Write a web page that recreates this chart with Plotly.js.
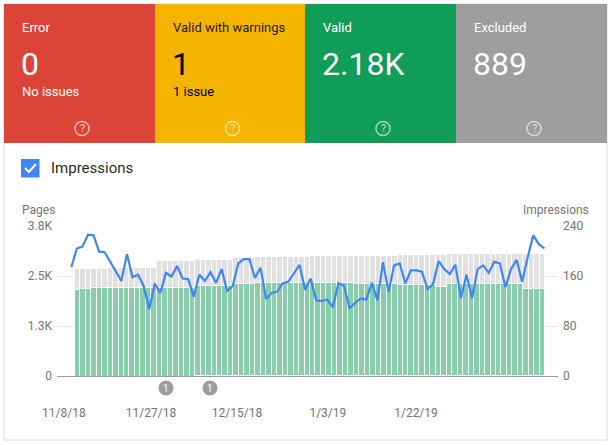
<!DOCTYPE html>
<html>
<head>
<meta charset="utf-8">
<script src="https://cdn.plot.ly/plotly-3.0.1.min.js"></script>
<style>
  html, body { margin: 0; padding: 0; background: #fff; }
  #chart { width: 612px; height: 445px; }
</style>
</head>
<body>
<div id="chart"></div>
<script>
// ---- Data ----
const cardTitles = ['Error', 'Valid with warnings', 'Valid', 'Excluded'];
const cardValues = ['0', '1', '2.18K', '889'];
const cardSubs = ['No issues', '1 issue', '', ''];

const errors = [0,0,0,0,0,0,0,0,0,0, 0,0,0,0,0,0,0,0,0,0, 0,0,0,0,0,0,0,0,0,0,
  0,0,0,0,0,0,0,0,0,0, 0,0,0,0,0,0,0,0,0,0, 0,0,0,0,0,0,0,0,0,0,
  0,0,0,0,0,0,0,0,0,0, 0,0,0,0,0,0,0,0,0,0, 0,0,0,0,0,0];
const warnings = [0,0,0,0,0,0,0,0,0,0, 0,0,0,0,0,0,0,0,0,0, 0,0,1,1,1,1,1,1,1,1,
  1,1,1,1,1,1,1,1,1,1, 1,1,1,1,1,1,1,1,1,1, 1,1,1,1,1,1,1,1,1,1,
  1,1,1,1,1,1,1,1,1,1, 1,1,1,1,1,1,1,1,1,1, 1,1,1,1,1,1];
const valid = [2167,2183,2183,2208,2208,2208,2208,2208,2208,2208,
  2208,2208,2225,2225,2225,2225,2225,2225,2225,2225,
  2225,2225,2258,2258,2258,2258,2258,2258,2258,2308,
  2308,2308,2308,2335,2335,2335,2335,2335,2335,2335,
  2335,2335,2335,2335,2335,2335,2335,2335,2335,2335,
  2335,2300,2300,2300,2300,2300,2300,2300,2300,2275,
  2275,2275,2275,2275,2275,2275,2240,2240,2300,2300,
  2300,2300,2300,2300,2300,2300,2300,2300,2300,2300,
  2300,2300,2180,2180,2180,2180];
const excluded = [525,509,509,484,484,484,517,517,517,517,
  517,517,500,500,500,667,667,667,667,667,
  667,667,645,645,645,645,645,645,645,666,
  666,666,666,664,664,664,664,664,664,664,
  664,664,664,684,684,684,684,684,684,684,
  684,719,719,719,719,719,719,719,719,766,
  766,766,766,766,766,766,801,801,766,766,
  766,766,766,766,766,766,766,766,766,766,
  766,766,889,889,889,889];
const impressions = [174,204,207,226,225,199,198,183,168,152,
  195,158,162,144,107,148,133,165,159,176,
  156,155,127,162,152,166,149,171,136,144,
  180,187,187,157,173,123,133,135,148,151,
  164,178,138,156,121,120,122,110,149,144,
  108,117,124,122,149,121,182,135,177,180,
  148,169,169,167,139,147,184,171,163,178,
  125,162,125,171,177,165,183,180,142,171,
  186,151,190,225,211,204];

const xTickLabels = ['11/8/18', '11/27/18', '12/15/18', '1/3/19', '1/22/19'];
const pagesTickLabels = ['0', '1.3K', '2.5K', '3.8K'];
const pagesTickValues = [0, 1250, 2500, 3750];
const imprTickValues = [0, 80, 160, 240];
const noteLabels = ['1', '1'];

// ---- Layout helpers (pixel -> paper) ----
const W = 612, H = 445;
const M = { l: 57, r: 54, t: 226, b: 69 };
const PW = W - M.l - M.r, PH = H - M.t - M.b;
const px = p => (p - M.l) / PW;
const py = p => (H - M.b - p) / PH;

const idx = valid.map((_, i) => i);

const FONT = 'Roboto, "Open Sans", sans-serif';

const traces = [
  { type: 'bar', name: 'Error', x: idx, y: errors, marker: { color: '#DB4437', line: { width: 0 } }, hoverinfo: 'skip' },
  { type: 'bar', name: 'Valid with warnings', x: idx, y: warnings, marker: { color: '#F4B400', line: { color: '#F4B400', width: 1.2 } } },
  { type: 'bar', name: 'Valid', x: idx, y: valid, marker: { color: '#87CEAB', line: { color: '#ffffff', width: 1 } } },
  { type: 'bar', name: 'Excluded', x: idx, y: excluded, marker: { color: '#E1E1E1', line: { color: '#ffffff', width: 1 } } },
  { type: 'scatter', mode: 'lines', name: 'Impressions', x: idx, y: impressions, xaxis: 'x2', yaxis: 'y2',
    line: { color: '#4285F4', width: 2.2 } }
];

const shapes = [];
const annotations = [];

// outer card
shapes.push({ type: 'rect', xref: 'paper', yref: 'paper', x0: px(4), x1: px(607), y0: py(4), y1: py(440),
  line: { color: 'rgba(0,0,0,0.14)', width: 1 }, fillcolor: '#ffffff', layer: 'below' });

const cardColors = ['#DB4437', '#F4B400', '#0F9D58', '#9E9E9E'];
const cardText = ['#ffffff', 'rgba(0,0,0,0.87)', '#ffffff', '#ffffff'];
const cardL = [4, 155, 305, 456], cardR = [155, 305, 456, 607];
for (let k = 0; k < 4; k++) {
  shapes.push({ type: 'rect', xref: 'paper', yref: 'paper', x0: px(cardL[k]), x1: px(cardR[k]), y0: py(4), y1: py(143),
    line: { width: 0 }, fillcolor: cardColors[k], layer: 'below' });
  annotations.push({ xref: 'paper', yref: 'paper', x: px(cardL[k] + 16), y: py(27.5), xanchor: 'left', yanchor: 'middle',
    text: cardTitles[k], showarrow: false, font: { family: FONT, size: 13, color: cardText[k] } });
  annotations.push({ xref: 'paper', yref: 'paper', x: px(cardL[k] + 14.5), y: py(64), xanchor: 'left', yanchor: 'middle',
    text: cardValues[k], showarrow: false, font: { family: FONT, size: 32, color: k === 1 ? '#000000' : '#ffffff' } });
  if (cardSubs[k]) {
    annotations.push({ xref: 'paper', yref: 'paper', x: px(cardL[k] + 16), y: py(91), xanchor: 'left', yanchor: 'middle',
      text: cardSubs[k], showarrow: false, font: { family: FONT, size: 13, color: k === 1 ? '#000000' : '#ffffff' } });
  }
  const cx = (cardL[k] + cardR[k]) / 2 + 2.5, cy = 128.5, r = 7;
  shapes.push({ type: 'circle', xref: 'paper', yref: 'paper', x0: px(cx - r), x1: px(cx + r), y0: py(cy + r), y1: py(cy - r),
    line: { color: 'rgba(255,255,255,0.6)', width: 1.5 }, fillcolor: 'rgba(0,0,0,0)' });
  annotations.push({ xref: 'paper', yref: 'paper', x: px(cx), y: py(cy), xanchor: 'center', yanchor: 'middle',
    text: '?', showarrow: false, font: { family: FONT, size: 11, color: 'rgba(255,255,255,0.7)' } });
}

// checkbox + legend
shapes.push({ type: 'rect', xref: 'paper', yref: 'paper', x0: px(21), x1: px(39.5), y0: py(177.5), y1: py(159),
  line: { width: 0 }, fillcolor: '#4285F4' });
shapes.push({ type: 'path', xref: 'paper', yref: 'paper',
  path: `M ${px(25)} ${py(168)} L ${px(28.8)} ${py(172)} L ${px(36)} ${py(164)}`,
  line: { color: '#ffffff', width: 2 } });
annotations.push({ xref: 'paper', yref: 'paper', x: px(49), y: py(168), xanchor: 'left', yanchor: 'middle',
  text: 'Impressions', showarrow: false, font: { family: FONT, size: 15, color: 'rgba(0,0,0,0.87)' } });

// axis titles
annotations.push({ xref: 'paper', yref: 'paper', x: px(19.5), y: py(209.5), xanchor: 'left', yanchor: 'middle',
  text: 'Pages', showarrow: false, font: { family: FONT, size: 12, color: '#757575' } });
annotations.push({ xref: 'paper', yref: 'paper', x: px(590.5), y: py(209.5), xanchor: 'right', yanchor: 'middle',
  text: 'Impressions', showarrow: false, font: { family: FONT, size: 12, color: '#757575' } });

// note markers
const noteX = [166, 210];
for (let k = 0; k < noteLabels.length; k++) {
  const r = 7.5, cy = 388;
  shapes.push({ type: 'circle', xref: 'paper', yref: 'paper', x0: px(noteX[k] - r), x1: px(noteX[k] + r),
    y0: py(cy + r), y1: py(cy - r), line: { width: 0 }, fillcolor: '#9E9E9E' });
  annotations.push({ xref: 'paper', yref: 'paper', x: px(noteX[k]), y: py(cy), xanchor: 'center', yanchor: 'middle',
    text: noteLabels[k], showarrow: false, font: { family: FONT, size: 10, color: '#ffffff' } });
}

const layout = {
  width: W, height: H,
  margin: M,
  paper_bgcolor: '#ffffff', plot_bgcolor: 'rgba(0,0,0,0)',
  showlegend: false,
  barmode: 'stack', bargap: 0,
  font: { family: FONT, size: 12, color: '#757575' },
  xaxis: {
    range: [-3.66, 87.93], showgrid: false, zeroline: false,
    showline: true, linecolor: '#9E9E9E', linewidth: 1, layer: 'below traces',
    tickmode: 'array', tickvals: [-2.4, 13.53, 29.25, 45.85, 61.97], ticktext: xTickLabels,
    ticks: '', ticklabelstandoff: 26,
    tickfont: { family: FONT, size: 12, color: '#757575' }
  },
  yaxis: {
    range: [0, 3750], showgrid: true, gridcolor: '#E9E9E9', gridwidth: 1, zeroline: false, showline: false,
    tickmode: 'array', tickvals: pagesTickValues, ticktext: pagesTickLabels,
    ticks: '', ticklabelstandoff: 4,
    tickfont: { family: FONT, size: 12, color: '#757575' }
  },
  xaxis2: { overlaying: 'x', range: [-2.57, 87.44], visible: false, anchor: 'y2' },
  yaxis2: {
    overlaying: 'y', side: 'right', anchor: 'x2', range: [0, 240], showgrid: false, zeroline: false, showline: false,
    tickmode: 'array', tickvals: imprTickValues, ticks: '', ticklabelstandoff: 4,
    tickfont: { family: FONT, size: 12, color: '#757575' }
  },
  shapes: shapes,
  annotations: annotations
};

Plotly.newPlot('chart', traces, layout, { staticPlot: true, displayModeBar: false });
</script>
</body>
</html>
